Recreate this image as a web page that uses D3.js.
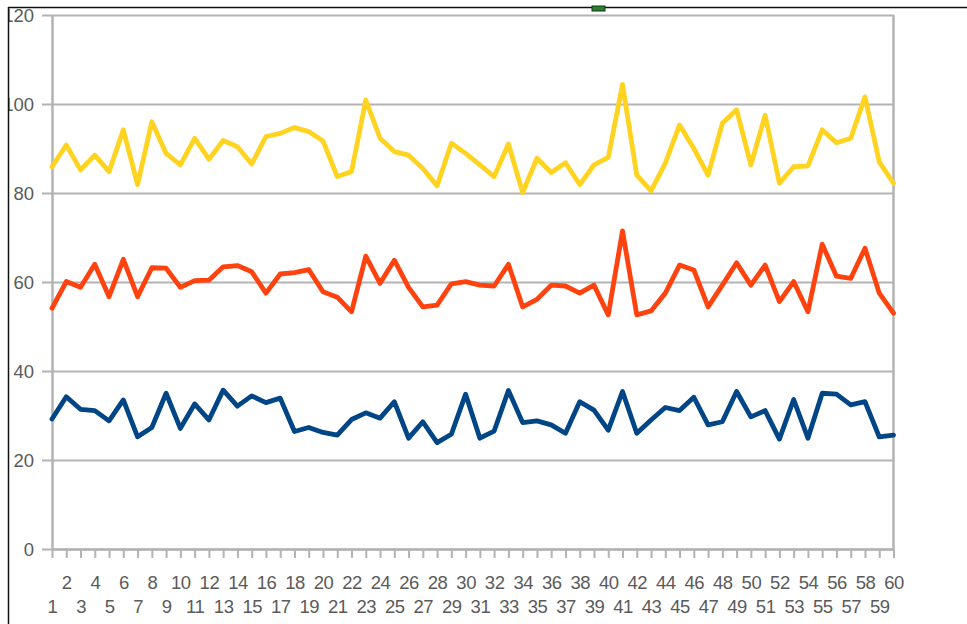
<!DOCTYPE html>
<html>
<head>
<meta charset="utf-8">
<script src="https://cdn.jsdelivr.net/npm/d3@7"></script>
<style>
  body { margin: 0; background: #fff; }
  svg { display: block; font-family: "Liberation Sans", Arial, sans-serif; }
</style>
</head>
<body>
<div id="chart"></div>
<script>
// categories 1..60
var categories = [];
for (var c = 1; c <= 60; c++) categories.push(c);

var yTicks = [0, 20, 40, 60, 80, 100, 120];

var seriesBlue = [29.2, 34.2, 31.4, 31.1, 28.8, 33.5, 25.2, 27.3, 35.0, 27.1,
    32.6, 29.0, 35.7, 32.1, 34.4, 32.9, 33.9, 26.4, 27.3, 26.2,
    25.6, 29.1, 30.6, 29.4, 33.1, 24.9, 28.6, 23.9, 25.8, 34.8,
    24.9, 26.5, 35.6, 28.4, 28.8, 27.9, 26.0, 33.1, 31.2, 26.7,
    35.4, 26.0, 29.0, 31.8, 31.1, 34.1, 27.9, 28.6, 35.4, 29.7,
    31.1, 24.7, 33.6, 24.9, 35.0, 34.8, 32.4, 33.1, 25.2, 25.6];

var seriesOrange = [54.1, 60.1, 58.8, 64.0, 56.7, 65.1, 56.7, 63.2, 63.1, 58.8,
    60.3, 60.4, 63.4, 63.7, 62.3, 57.5, 61.8, 62.1, 62.8, 57.8,
    56.6, 53.3, 65.8, 59.7, 64.9, 58.8, 54.4, 54.8, 59.6, 60.1,
    59.3, 59.1, 64.0, 54.4, 56.1, 59.3, 59.1, 57.5, 59.3, 52.6,
    71.5, 52.6, 53.5, 57.5, 63.8, 62.7, 54.4, 59.3, 64.3, 59.3,
    63.8, 55.6, 60.1, 53.3, 68.5, 61.3, 60.8, 67.6, 57.5, 53.0];

var seriesYellow = [85.9, 90.8, 85.2, 88.5, 84.8, 94.2, 81.9, 96.0, 88.9, 86.3,
    92.3, 87.6, 91.8, 90.4, 86.5, 92.7, 93.4, 94.7, 93.8, 91.7,
    83.7, 84.8, 100.9, 92.3, 89.3, 88.5, 85.5, 81.6, 91.2, 88.9,
    86.3, 83.7, 91.0, 80.1, 87.8, 84.6, 86.8, 81.9, 86.3, 88.0,
    104.4, 84.0, 80.5, 86.7, 95.3, 90.0, 84.0, 95.7, 98.7, 86.3,
    97.5, 82.2, 85.9, 86.1, 94.2, 91.3, 92.3, 101.6, 87.0, 82.2];

var W = 967, H = 624;
var plotLeft = 52, plotRight = 893.5, plotTop = 15, plotBottom = 549;
var fontSize = "18.5px";

var svg = d3.select("#chart").append("svg")
    .attr("width", W)
    .attr("height", H);

var x = d3.scalePoint().domain(categories).range([plotLeft, plotRight]);
var y = d3.scaleLinear().domain([0, 120]).range([plotBottom, plotTop]);

var grey = "#b3b3b3";

// gridlines
svg.append("g")
    .attr("transform", "translate(" + plotLeft + ",0)")
    .call(d3.axisLeft(y).tickValues(yTicks).tickSize(-(plotRight - plotLeft)).tickFormat(""))
    .call(function (g) {
        g.select(".domain").remove();
        g.selectAll("line").attr("stroke", grey).attr("stroke-width", 2);
    });

// y axis with ticks + labels
svg.append("g")
    .attr("transform", "translate(" + plotLeft + ",0)")
    .call(d3.axisLeft(y).tickValues(yTicks).tickSize(10).tickSizeOuter(0).tickPadding(8))
    .call(function (g) {
        g.select(".domain").attr("stroke", grey).attr("stroke-width", 2.5);
        g.selectAll("line").attr("stroke", grey).attr("stroke-width", 2);
        g.selectAll("text").attr("fill", "#5a5a5a").style("font-size", fontSize).attr("dy", "0.36em");
    });

// right border of plot area
svg.append("line")
    .attr("x1", plotRight).attr("x2", plotRight)
    .attr("y1", plotTop).attr("y2", plotBottom)
    .attr("stroke", grey).attr("stroke-width", 2.5);

// x axis
svg.append("g")
    .attr("transform", "translate(0," + plotBottom + ")")
    .call(d3.axisBottom(x).tickSize(9).tickSizeOuter(0))
    .call(function (g) {
        g.select(".domain").attr("stroke", grey).attr("stroke-width", 2.5);
        g.selectAll("line").attr("stroke", grey).attr("stroke-width", 2);
        g.selectAll("text")
            .attr("fill", "#5a5a5a")
            .style("font-size", fontSize)
            .style("letter-spacing", "-0.5px")
            .attr("dy", 0)
            .attr("y", function (d) { return d % 2 === 0 ? 39.5 : 64; });
    });

var line = d3.line()
    .x(function (d, i) { return x(categories[i]); })
    .y(function (d) { return y(d); });

var series = [
    {values: seriesBlue, color: "#004586"},
    {values: seriesOrange, color: "#ff420e"},
    {values: seriesYellow, color: "#ffd320"}
];

svg.selectAll(".series")
    .data(series)
    .enter().append("path")
    .attr("class", "series")
    .attr("d", function (d) { return line(d.values); })
    .attr("fill", "none")
    .attr("stroke", function (d) { return d.color; })
    .attr("stroke-width", 4.8)
    .attr("stroke-linejoin", "round")
    .attr("stroke-linecap", "round");

// crop mask to the left of the frame, then the frame
svg.append("rect").attr("x", 0).attr("y", 0).attr("width", 8).attr("height", H).attr("fill", "#fff");
svg.append("rect").attr("x", 0).attr("y", 0).attr("width", W).attr("height", 7).attr("fill", "#fff");
svg.append("line")
    .attr("x1", 8).attr("x2", W).attr("y1", 7.5).attr("y2", 7.5)
    .attr("stroke", "#111").attr("stroke-width", 1.5);
svg.append("line")
    .attr("x1", 8.5).attr("x2", 8.5).attr("y1", 7).attr("y2", H)
    .attr("stroke", "#111").attr("stroke-width", 1.5);

// small selection handle at the top
svg.append("rect")
    .attr("x", 592).attr("y", 6).attr("width", 13).attr("height", 5)
    .attr("fill", "#2e7d32").attr("stroke", "#0b3d0b").attr("stroke-width", 1);
</script>
</body>
</html>
